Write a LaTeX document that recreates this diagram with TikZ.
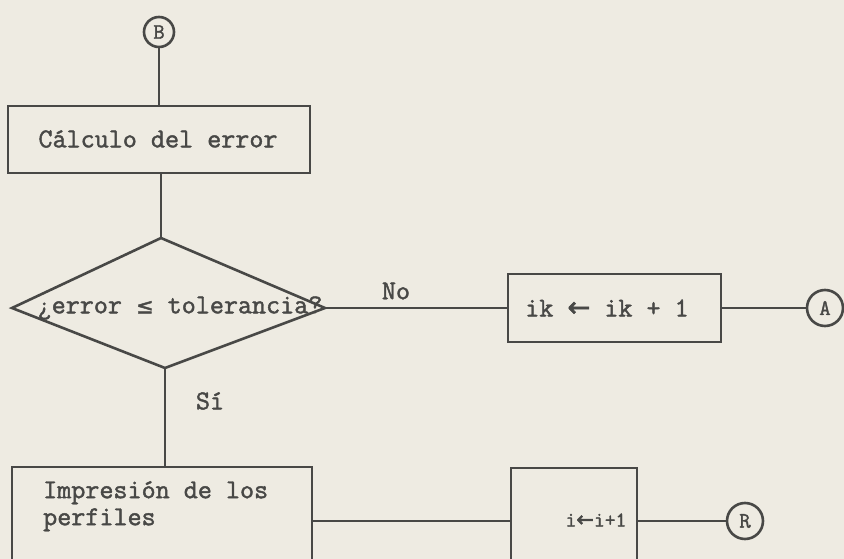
\documentclass[tikz,border=0pt]{standalone}
\usepackage{fontspec}
\setmonofont{Latin Modern Mono}[FakeBold=1.6,AutoFakeBold=1.6]
\newfontfamily\symfont{DejaVu Sans}[FakeBold=2,AutoFakeBold=2]
\definecolor{paper}{RGB}{238,235,226}
\definecolor{ink}{RGB}{72,72,70}
\tikzset{
  ln/.style={draw=ink, line width=2.6pt},
  box/.style={ln, rectangle, inner sep=0pt},
  conn/.style={ln, circle, inner sep=0pt, text=ink, font=\ttfamily\fontsize{22}{22}\selectfont\bfseries},
  txt/.style={text=ink, inner sep=0pt, font=\ttfamily\fontsize{27.3}{27}\selectfont\bfseries},
}
\newcommand{\larr}{{\symfont\bfseries ←}}
\newcommand{\leqs}{{\symfont\fontsize{21}{21}\selectfont ≤}}
\begin{document}
\begin{tikzpicture}[x=1pt,y=-1pt]
\useasboundingbox (0,0) rectangle (844,559);
\clip (0,0) rectangle (844,559);
\fill[paper] (0,0) rectangle (844,559);

% connectors (circles)
\node[conn, minimum size=30pt] (B) at (159,32) {B};
\node[conn, minimum size=36pt] (A) at (825,308) {A};
\node[conn, minimum size=36pt] (R) at (745,521) {R};

% boxes
\node[box, minimum width=302pt, minimum height=67pt] (calc) at (159,139.5) {};
\node[txt] (calct) at (158,139) {Cálculo del error};

\coordinate (dtop) at (161,238);
\coordinate (dbot) at (165,368);
\coordinate (dleft) at (12,308);
\coordinate (dright) at (325,308);
\draw[ln, line join=miter] (dtop) -- (dright) -- (dbot) -- (dleft) -- cycle;
\node[txt] (dect) at (180,308) {¿error \leqs{} tolerancia?};

\node[box, minimum width=213pt, minimum height=68pt] (ik) at (614.5,308) {};
\node[txt] (ikt) at (607,308) {ik \larr{} ik + 1};

\node[box, minimum width=300pt, minimum height=108pt] (imp) at (162,521) {};
\node[txt, anchor=north west, align=left] (impt) at (43,481) {Impresión de los\\perfiles};

\node[box, minimum width=126pt, minimum height=106pt] (ib) at (574,521) {};
\node[txt, font=\ttfamily\fontsize{21}{21}\selectfont\bfseries] (ibt) at (596,520) {i\larr{}i+1};

% labels
\node[txt] (no) at (396,291) {No};
\node[txt] (si) at (210,401) {Sí};

% lines
\draw[ln] (B) -- (calc.north -| B);
\draw[ln] (calc.south -| dtop) -- (dtop);
\draw[ln] (dbot) -- (imp.north -| dbot);
\draw[ln] (dright) -- (ik.west);
\draw[ln] (ik.east) -- (A);
\draw[ln] (imp.east) -- (ib.west);
\draw[ln] (ib.east) -- (R);
\end{tikzpicture}
\end{document}
